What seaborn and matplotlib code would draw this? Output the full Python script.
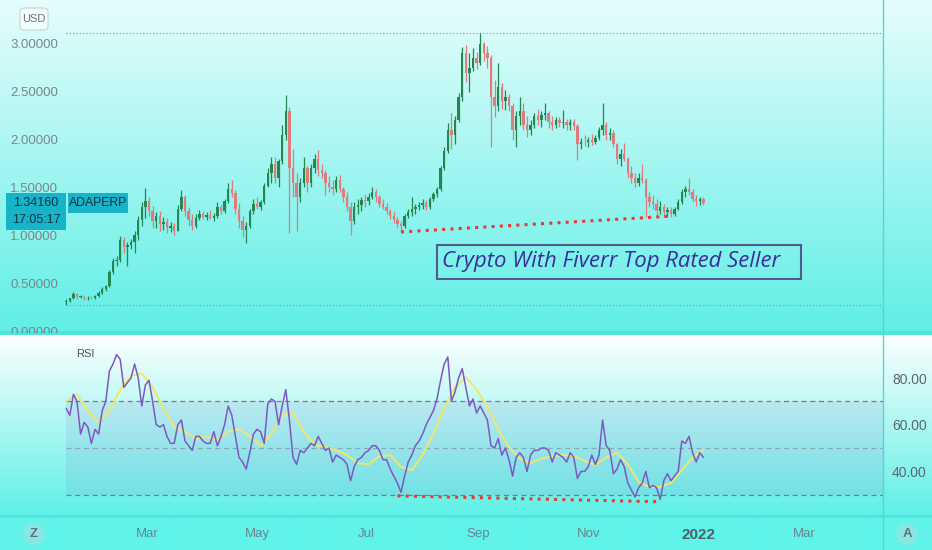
import numpy as np
import pandas as pd
import matplotlib
matplotlib.use("Agg")
import matplotlib.pyplot as plt
import matplotlib.dates as mdates
from matplotlib.patches import Rectangle, FancyBboxPatch, Ellipse
from matplotlib.lines import Line2D
import seaborn as sns

# ---- data: ADAPERP, 2-day candles starting 2021-01-15 ----
start_date = "2021-01-15"
opens = [
    .30, .31, .34, .39, .36, .36, .34, .35, .34, .37,
    .40, .44, .47, .62, .73, .74, .95, .88, .90, .93,
    1.00, 1.16, 1.30, 1.36, 1.25, 1.15, 1.20, 1.12, 1.14, 1.08,
    1.10, 1.05, 1.28, 1.40, 1.25, 1.16, 1.10, 1.18, 1.22, 1.19,
    1.21, 1.18, 1.20, 1.30, 1.25, 1.36, 1.48, 1.44, 1.28, 1.15,
    1.06, 1.10, 1.25, 1.33, 1.30, 1.35, 1.52, 1.65, 1.75, 1.60,
    1.78, 2.05, 2.30, 1.70, 1.55, 1.40, 1.55, 1.70, 1.55, 1.70,
    1.80, 1.68, 1.65, 1.55, 1.50, 1.48, 1.58, 1.48, 1.40, 1.30,
    1.15, 1.30, 1.32, 1.37, 1.36, 1.40, 1.45, 1.40, 1.33, 1.30,
    1.25, 1.20, 1.16, 1.12, 1.10, 1.20, 1.24, 1.28, 1.30, 1.32,
    1.34, 1.30, 1.38, 1.43, 1.48, 1.70, 1.88, 2.10, 2.05, 2.20,
    2.45, 2.90, 2.70, 2.75, 2.85, 2.80, 3.00, 2.90, 2.85, 2.45,
    2.35, 2.55, 2.40, 2.45, 2.35, 2.10, 2.25, 2.30, 2.15, 2.10,
    2.15, 2.25, 2.20, 2.26, 2.28, 2.18, 2.15, 2.20, 2.17, 2.18,
    2.15, 2.18, 2.14, 1.95, 1.98, 1.97, 2.00, 1.98, 2.02, 2.10,
    2.15, 2.05, 2.07, 1.95, 1.80, 1.85, 1.80, 1.65, 1.60, 1.55,
    1.60, 1.58, 1.40, 1.35, 1.33, 1.25, 1.30, 1.24, 1.26, 1.22,
    1.28, 1.35, 1.45, 1.48, 1.45, 1.38, 1.36, 1.38,
]
highs = [
    .33, .35, .41, .40, .38, .37, .37, .37, .38, .42,
    .46, .48, .64, .76, .78, .99, .98, .93, .96, 1.05,
    1.20, 1.35, 1.49, 1.40, 1.31, 1.24, 1.25, 1.19, 1.18, 1.14,
    1.13, 1.32, 1.47, 1.42, 1.30, 1.22, 1.22, 1.26, 1.25, 1.24,
    1.26, 1.23, 1.35, 1.33, 1.38, 1.55, 1.58, 1.47, 1.34, 1.20,
    1.14, 1.28, 1.38, 1.40, 1.37, 1.55, 1.70, 1.82, 1.82, 1.80,
    2.15, 2.47, 2.34, 1.90, 1.65, 1.60, 1.82, 1.72, 1.75, 1.85,
    1.89, 1.75, 1.68, 1.62, 1.58, 1.62, 1.63, 1.50, 1.45, 1.35,
    1.35, 1.38, 1.40, 1.43, 1.44, 1.50, 1.48, 1.42, 1.38, 1.34,
    1.28, 1.25, 1.19, 1.15, 1.22, 1.28, 1.40, 1.33, 1.35, 1.38,
    1.37, 1.40, 1.45, 1.50, 1.72, 1.92, 2.17, 2.28, 2.25, 2.49,
    2.97, 2.99, 2.90, 2.96, 2.92, 3.11, 3.02, 2.98, 2.88, 2.62,
    2.80, 2.59, 2.52, 2.48, 2.38, 2.30, 2.45, 2.38, 2.25, 2.20,
    2.28, 2.32, 2.30, 2.38, 2.30, 2.25, 2.24, 2.24, 2.31, 2.22,
    2.22, 2.22, 2.16, 2.02, 2.05, 2.03, 2.06, 2.05, 2.13, 2.38,
    2.18, 2.12, 2.10, 1.96, 1.90, 1.96, 1.82, 1.72, 1.65, 1.65,
    1.75, 1.60, 1.45, 1.42, 1.38, 1.36, 1.33, 1.30, 1.30, 1.30,
    1.38, 1.48, 1.52, 1.60, 1.48, 1.42, 1.40, 1.40,
]
lows = [
    .27, .30, .33, .33, .34, .32, .32, .33, .33, .36,
    .39, .42, .46, .60, .68, .72, .82, .68, .86, .82,
    .95, 1.10, 1.18, 1.20, 1.08, 1.08, 1.05, 1.06, 1.02, 1.03,
    1.00, 1.04, 1.25, 1.20, 1.10, 1.06, 1.08, 1.16, 1.17, 1.16,
    1.17, 1.15, 1.18, 1.22, 1.23, 1.34, 1.40, 1.22, 1.08, .98,
    .92, 1.08, 1.22, 1.28, 1.26, 1.33, 1.50, 1.55, 1.55, 1.50,
    1.75, 2.00, 1.02, 1.40, 1.05, 1.35, 1.50, 1.45, 1.50, 1.65,
    1.62, 1.60, 1.42, 1.45, 1.42, 1.45, 1.45, 1.35, 1.25, 1.00,
    1.12, 1.22, 1.25, 1.30, 1.32, 1.38, 1.35, 1.30, 1.28, 1.22,
    1.17, 1.13, 1.08, 1.03, 1.08, 1.18, 1.20, 1.22, 1.26, 1.28,
    1.26, 1.28, 1.36, 1.40, 1.46, 1.68, 1.86, 1.90, 1.95, 2.18,
    2.40, 2.60, 2.50, 2.72, 2.74, 2.78, 2.82, 2.75, 1.92, 2.24,
    2.30, 2.32, 2.31, 2.30, 2.00, 1.92, 2.15, 2.10, 2.03, 2.05,
    2.12, 2.15, 2.13, 2.20, 2.12, 2.10, 2.12, 2.13, 2.12, 2.10,
    2.10, 2.10, 1.79, 1.90, 1.93, 1.92, 1.94, 1.95, 2.00, 2.05,
    2.00, 2.00, 1.92, 1.75, 1.72, 1.78, 1.60, 1.55, 1.50, 1.52,
    1.55, 1.19, 1.30, 1.28, 1.20, 1.22, 1.19, 1.20, 1.19, 1.20,
    1.26, 1.33, 1.40, 1.42, 1.35, 1.31, 1.32, 1.32,
]
closes = [
    .31, .34, .39, .36, .36, .34, .35, .34, .37, .40,
    .44, .47, .62, .73, .74, .95, .88, .90, .93, 1.00,
    1.16, 1.30, 1.36, 1.25, 1.15, 1.20, 1.12, 1.14, 1.08, 1.10,
    1.05, 1.28, 1.40, 1.25, 1.16, 1.10, 1.18, 1.22, 1.19, 1.21,
    1.18, 1.20, 1.30, 1.25, 1.36, 1.48, 1.44, 1.28, 1.15, 1.06,
    1.10, 1.25, 1.33, 1.30, 1.35, 1.52, 1.65, 1.75, 1.60, 1.78,
    2.05, 2.30, 1.70, 1.55, 1.40, 1.55, 1.70, 1.55, 1.70, 1.80,
    1.68, 1.65, 1.55, 1.50, 1.48, 1.58, 1.48, 1.40, 1.30, 1.15,
    1.30, 1.32, 1.37, 1.36, 1.40, 1.45, 1.40, 1.33, 1.30, 1.25,
    1.20, 1.16, 1.12, 1.10, 1.20, 1.24, 1.28, 1.30, 1.32, 1.34,
    1.30, 1.38, 1.43, 1.48, 1.70, 1.88, 2.10, 2.05, 2.20, 2.45,
    2.90, 2.70, 2.75, 2.85, 2.80, 3.00, 2.90, 2.85, 2.45, 2.35,
    2.55, 2.40, 2.45, 2.35, 2.10, 2.25, 2.30, 2.15, 2.10, 2.15,
    2.25, 2.20, 2.26, 2.28, 2.18, 2.15, 2.20, 2.17, 2.18, 2.15,
    2.18, 2.14, 1.95, 1.98, 1.97, 2.00, 1.98, 2.02, 2.10, 2.15,
    2.05, 2.07, 1.95, 1.80, 1.85, 1.80, 1.65, 1.60, 1.55, 1.60,
    1.58, 1.40, 1.35, 1.33, 1.25, 1.30, 1.24, 1.26, 1.22, 1.28,
    1.35, 1.45, 1.48, 1.45, 1.38, 1.36, 1.38, 1.3416,
]
rsi = [
    67, 64, 73, 70, 56, 61, 59, 52, 58, 56,
    66, 70, 83, 86, 90, 88, 76, 78, 80, 86,
    80, 68, 77, 79, 70, 60, 59, 60, 55, 52,
    52, 60, 62, 53, 51, 49, 55, 55, 53, 52,
    52, 57, 51, 55, 60, 68, 64, 55, 46, 44,
    41, 48, 56, 58, 57, 52, 69, 71, 70, 60,
    68, 75, 62, 46, 43, 49, 48, 50, 52, 51,
    55, 52, 49, 50, 44, 47, 46, 45, 43, 36,
    42, 45, 46, 48, 49, 51, 51, 49, 45, 45,
    41, 38, 35, 31, 38, 44, 47, 51, 53, 56,
    60, 63, 66, 71, 79, 86, 89, 70, 74, 80,
    84, 76, 68, 71, 65, 68, 65, 62, 51, 50,
    54, 47, 50, 45, 38, 46, 48, 46, 40, 47,
    49, 49, 50, 50, 49, 44, 48, 47, 46, 44,
    48, 46, 37, 40, 40, 42, 47, 43, 47, 62,
    51, 49, 39, 41, 45, 42, 35, 32, 29, 33,
    35, 40, 33, 34, 33, 28, 36, 39, 36, 38,
    40, 53, 52, 55, 48, 44, 48, 46,
]
# RSI moving average, read at every third candle
rsi_ma = [
    70, 73, 66, 61, 66, 75, 81, 82, 76, 67,
    59, 57, 54, 55, 53.5, 57, 58, 55, 51, 56,
    64, 65, 57, 51.5, 50.5, 49, 47, 43.5, 43, 46.5,
    47, 42, 40.5, 47, 56, 67, 76, 80.4, 75, 67.6,
    58, 50.5, 45.5, 43.5, 45.5, 46.5, 47, 46.5, 44.5, 42.7,
    46, 48, 43, 35.5, 33.3, 33.3, 35, 40.5, 46, 49,
]
support_dates = ["2021-07-20", "2021-12-17"]
support_prices = [1.035, 1.20]
rsi_div_dates = ["2021-07-18", "2021-12-11"]
rsi_div_values = [29.5, 27.0]
rsi_levels = [70, 50, 30]

symbol = "ADAPERP"
last_price = 1.34160
countdown = "17:05:17"
price_ticks = [0.0, 0.5, 1.0, 1.5, 2.0, 2.5, 3.0]
rsi_ticks = [40, 60, 80]
month_ticks = ["2021-03-01", "2021-05-01", "2021-07-01", "2021-09-01",
               "2021-11-01", "2022-01-01", "2022-03-01"]
month_labels = ["Mar", "May", "Jul", "Sep", "Nov", "2022", "Mar"]
banner = "Crypto With Fiverr Top Rated Seller"

# ---- layout (pixels of a 932x550 canvas) ----
W, H = 932, 550


def fx(px):
    return px / W


def fy(py):
    return 1 - py / H


def mix(c1, c2, n):
    a = np.array(matplotlib.colors.to_rgb(c1))
    b = np.array(matplotlib.colors.to_rgb(c2))
    t = np.linspace(0, 1, n)[:, None]
    return a + (b - a) * t


sns.set_theme(style="white")
plt.rcParams["font.family"] = ["Liberation Sans", "DejaVu Sans"]

fig = plt.figure(figsize=(W / 100, H / 100), dpi=100)

# background gradients
rows = np.vstack([
    mix("#e6fdfc", "#60efe6", 331),
    mix("#4fe4dc", "#4fe4dc", 4),
    mix("#fbfffe", "#5ff0e7", 180),
    mix("#52e4dc", "#52e4dc", 3),
    mix("#5ff3ea", "#5ff3ea", 32),
])
bg = fig.add_axes([0, 0, 1, 1])
bg.imshow(rows[:, None, :], aspect="auto", extent=[0, 1, 0, 1], interpolation="bilinear")
bg.axis("off")
bg.set_zorder(-1)

jan1 = mdates.date2num(pd.Timestamp("2022-01-01"))
px_per_day = 1.8
x_left = jan1 - 698 / px_per_day
x_right = jan1 + (883 - 698) / px_per_day

dates = pd.date_range(start_date, periods=len(closes), freq="2D")
xs = mdates.date2num(dates)
o = np.array(opens)
h = np.array(highs)
l = np.array(lows)
c = np.array(closes)

# ---- price pane ----
ax = fig.add_axes([0, fy(333), fx(883), 333 / H])
ax.patch.set_alpha(0)
ax.set_xlim(x_left, x_right)
ax.set_ylim((331 - 333) / 95.7, 331 / 95.7)

up = c >= o
cols = np.where(up, "#23874f", "#e07b7b")
ax.vlines(xs, l, h, colors=cols, lw=0.9, zorder=3)
ax.bar(xs, np.maximum(np.abs(c - o), 0.006), bottom=np.minimum(o, c),
       width=1.25, color=cols, linewidth=0, zorder=3)

ax.hlines([h.max(), l.min()], xs[0], x_right, colors="#8d939c",
          linestyles=(0, (1, 2)), lw=0.8, zorder=2)
ax.plot(mdates.date2num(pd.to_datetime(support_dates)), support_prices,
        color="#e53935", lw=2.2, linestyle=(0, (1, 1.7)), zorder=4)

ax.set_xticks([])
ax.set_yticks(price_ticks)
ax.set_yticklabels([f"{v:.5f}" for v in price_ticks])
ax.tick_params(axis="y", length=0, pad=-58 * 0.72, labelsize=9.5, labelcolor="#7b858e")
for t in ax.yaxis.get_major_ticks():
    t.label1.set_clip_box(ax.bbox)
    t.label1.set_clip_on(True)
for s in ax.spines.values():
    s.set_visible(False)

# ---- RSI pane ----
rax = fig.add_axes([0, fy(515), fx(883), 179 / H])
rax.patch.set_alpha(0)
rax.set_xlim(x_left, x_right)
rax.set_ylim(80 - (515 - 378) / 2.335, 80 + (378 - 336) / 2.335)

rax.fill_between([xs[0], x_right], 30, 70, color="#7e57c2", alpha=0.1, lw=0)
rax.hlines([rsi_levels[0], rsi_levels[2]], xs[0], x_right, colors="#787b86",
           linestyles=(0, (4, 3)), lw=0.9)
rax.hlines([rsi_levels[1]], xs[0], x_right, colors="#787b86", alpha=0.55,
           linestyles=(0, (4, 3)), lw=0.9)
sns.lineplot(x=xs, y=rsi, ax=rax, color="#7e57c2", lw=1.1, zorder=4)
sns.lineplot(x=xs[::3], y=rsi_ma, ax=rax, color="#f2e66a", lw=1.4, zorder=3)
rax.plot(mdates.date2num(pd.to_datetime(rsi_div_dates)), rsi_div_values,
         color="#e53935", lw=2.2, linestyle=(0, (1, 1.7)), zorder=5)

rax.yaxis.tick_right()
rax.set_yticks(rsi_ticks)
rax.set_yticklabels([f"{v:.2f}" for v in rsi_ticks])
rax.tick_params(axis="y", length=0, pad=6.5, labelsize=10, labelcolor="#60646d")
rax.set_xticks(mdates.date2num(pd.to_datetime(month_ticks)))
rax.set_xticklabels(month_labels)
rax.tick_params(axis="x", length=0, pad=9.4, labelsize=9.5, labelcolor="#6a8590")
for lbl in rax.get_xticklabels():
    if lbl.get_text() == "2022":
        lbl.set_fontweight("bold")
        lbl.set_fontsize(11)
        lbl.set_color("#4d5f68")
rax.set_xlabel("")
rax.set_ylabel("")
for s in rax.spines.values():
    s.set_visible(False)

fig.text(fx(76), fy(354), "RSI", fontsize=8, color="#4b4f56", ha="left", va="center")

# ---- overlays ----
fig.add_artist(Line2D([fx(883), fx(883)], [0, 1], transform=fig.transFigure,
                      color="#58d3d0", lw=1))

fig.add_artist(FancyBboxPatch((fx(20), fy(30)), 28 / W, 22 / H,
                              boxstyle="round,pad=0,rounding_size=0.006",
                              transform=fig.transFigure, facecolor="#f2fdfd",
                              edgecolor="#c6d3d6", lw=0.8))
fig.text(fx(34), fy(19), "USD", fontsize=8, color="#6b7079", ha="center", va="center")

fig.add_artist(Rectangle((fx(6), fy(230)), 60 / W, 37 / H, transform=fig.transFigure,
                         facecolor="#16b3c9", edgecolor="none"))
fig.add_artist(Rectangle((fx(68), fy(213)), 60 / W, 20 / H, transform=fig.transFigure,
                         facecolor="#16b3c9", edgecolor="none"))
fig.text(fx(36), fy(203), f"{last_price:.5f}", fontsize=9, color="#0b3744",
         ha="center", va="center")
fig.text(fx(36), fy(220), countdown, fontsize=9, color="#0b3744",
         ha="center", va="center")
fig.text(fx(98), fy(203), symbol, fontsize=8.8, color="#0b3744",
         ha="center", va="center")

fig.add_artist(Rectangle((fx(437), fy(279)), 364 / W, 34 / H, transform=fig.transFigure,
                         facecolor="none", edgecolor="#4f5a8e", lw=1.5))
bt = fig.text(fx(442), fy(262), banner, fontsize=17, style="italic", color="#3a2d9c",
              ha="left", va="center",
              family=["Liberation Sans Narrow", "Open Sans", "DejaVu Sans"])
fig.canvas.draw()
wpx = bt.get_window_extent().width
bt.set_fontsize(17 * 338 / wpx)

for cx, letter in [(34, "Z"), (907, "A")]:
    fig.add_artist(Ellipse((fx(cx), fy(534)), 22 / W, 22 / H, transform=fig.transFigure,
                           facecolor="#8ae6e3", edgecolor="none"))
    fig.text(fx(cx), fy(534), letter, fontsize=9.5, color="#5f7479",
             ha="center", va="center", fontweight="bold")

fig.savefig("out.png", dpi=100)
